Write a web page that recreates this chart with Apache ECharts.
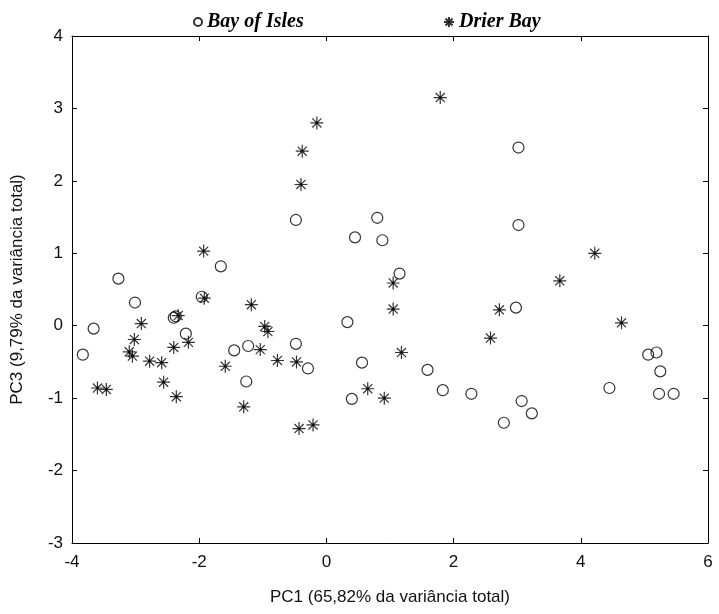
<!DOCTYPE html>
<html>
<head>
<meta charset="utf-8">
<script src="https://cdn.jsdelivr.net/npm/echarts@6/dist/echarts.min.js"></script>
<style>
  html, body { margin: 0; padding: 0; background: #fff; }
  #chart { width: 719px; height: 614px; }
</style>
</head>
<body>
<div id="chart"></div>
<script>
// PC1 / PC3 scores
const bayOfIsles = [
  [-3.83, -0.40], [-3.66, -0.04], [-3.27, 0.65], [-3.01, 0.32], [-2.40, 0.11],
  [-2.37, 0.13], [-2.21, -0.11], [-1.96, 0.40], [-1.66, 0.82], [-1.45, -0.34],
  [-1.23, -0.28], [-1.26, -0.77], [-0.48, 1.46], [0.80, 1.49], [0.45, 1.22],
  [0.88, 1.18], [1.15, 0.72], [0.33, 0.05], [-0.48, -0.25], [-0.29, -0.59],
  [0.56, -0.51], [0.40, -1.01], [1.59, -0.61], [1.83, -0.89], [3.02, 2.46],
  [3.02, 1.39], [2.98, 0.25], [5.06, -0.40], [5.19, -0.37], [5.25, -0.63],
  [4.45, -0.86], [5.23, -0.94], [5.46, -0.94], [2.28, -0.94], [3.07, -1.04],
  [3.23, -1.21], [2.79, -1.34]
]
const drierBay = [
  [-3.60, -0.86], [-3.46, -0.88], [-2.91, 0.03], [-3.02, -0.19], [-3.10, -0.36],
  [-3.05, -0.42], [-2.78, -0.49], [-2.59, -0.51], [-2.56, -0.78], [-2.40, -0.30],
  [-2.36, -0.98], [-2.33, 0.14], [-2.17, -0.23], [-1.93, 1.03], [-1.92, 0.38],
  [-1.59, -0.56], [-1.18, 0.29], [-1.30, -1.12], [-1.04, -0.33], [-0.97, -0.01],
  [-0.92, -0.08], [-0.77, -0.48], [1.79, 3.15], [-0.15, 2.80], [-0.38, 2.41],
  [-0.40, 1.95], [1.05, 0.59], [1.05, 0.23], [-0.47, -0.50], [1.18, -0.37],
  [0.65, -0.87], [0.91, -1.00], [-0.43, -1.42], [-0.21, -1.37], [4.22, 1.00],
  [3.67, 0.62], [2.72, 0.22], [2.58, -0.17], [4.64, 0.04]
]
const seriesNames = ['Bay of Isles', 'Drier Bay']
const xTitle = 'PC1 (65,82% da variância total)'
const yTitle = 'PC3 (9,79% da variância total)'

// asterisk marker: 8 spokes + small center dot
const starPath = 'path://M0,6L12,6M6,0L6,12M1.8,1.8L10.2,10.2M10.2,1.8L1.8,10.2M5,5L7,5L7,7L5,7Z'

const chart = echarts.init(document.getElementById('chart'))

const tickFont = { color: '#111', fontFamily: 'Liberation Sans, Arial', fontSize: 17 }
const legendText = { color: '#000', fontFamily: 'Liberation Serif, Times New Roman', fontStyle: 'italic', fontWeight: 'bold', fontSize: 20 }
const frameLine = { show: true, onZero: false, lineStyle: { color: '#000', width: 1 } }
const innerTick = { show: true, inside: true, length: 5, lineStyle: { color: '#000' } }

chart.setOption({
  animation: false,
  backgroundColor: '#fff',
  legend: [
    { data: [seriesNames[0]], left: 188, top: 7, itemWidth: 8, itemHeight: 8, itemGap: 0, textStyle: legendText },
    { data: [seriesNames[1]], left: 438, top: 7, itemWidth: 10, itemHeight: 10, itemGap: 0, textStyle: legendText }
  ],
  grid: { left: 72, right: 11, top: 36, bottom: 71 },
  xAxis: [
    {
      type: 'value', min: -4, max: 6, interval: 2,
      name: xTitle, nameLocation: 'middle', nameGap: 46,
      nameTextStyle: { color: '#111', fontFamily: 'Liberation Sans, Arial', fontSize: 17 },
      axisLine: frameLine, axisTick: innerTick,
      axisLabel: { ...tickFont, margin: 11 },
      splitLine: { show: false }
    },
    {
      type: 'value', position: 'top', min: -4, max: 6, interval: 2,
      axisLine: frameLine, axisTick: innerTick, axisLabel: { show: false }, splitLine: { show: false }
    }
  ],
  yAxis: [
    {
      type: 'value', min: -3, max: 4, interval: 1,
      name: yTitle, nameLocation: 'middle', nameGap: 46,
      nameTextStyle: { color: '#111', fontFamily: 'Liberation Sans, Arial', fontSize: 17 },
      axisLine: frameLine, axisTick: innerTick,
      axisLabel: { ...tickFont, margin: 9 },
      splitLine: { show: false }
    },
    {
      type: 'value', position: 'right', min: -3, max: 4, interval: 1,
      axisLine: frameLine, axisTick: innerTick, axisLabel: { show: false }, splitLine: { show: false }
    }
  ],
  series: [
    {
      name: seriesNames[0], type: 'scatter', data: bayOfIsles,
      symbol: 'circle', symbolSize: 11,
      itemStyle: { color: 'rgba(255,255,255,0)', borderColor: '#000', borderWidth: 1.2 }
    },
    {
      name: seriesNames[1], type: 'scatter', data: drierBay,
      symbol: starPath, symbolSize: 13,
      itemStyle: { color: '#000', borderColor: '#000', borderWidth: 1.2 }
    }
  ]
})
</script>
</body>
</html>
